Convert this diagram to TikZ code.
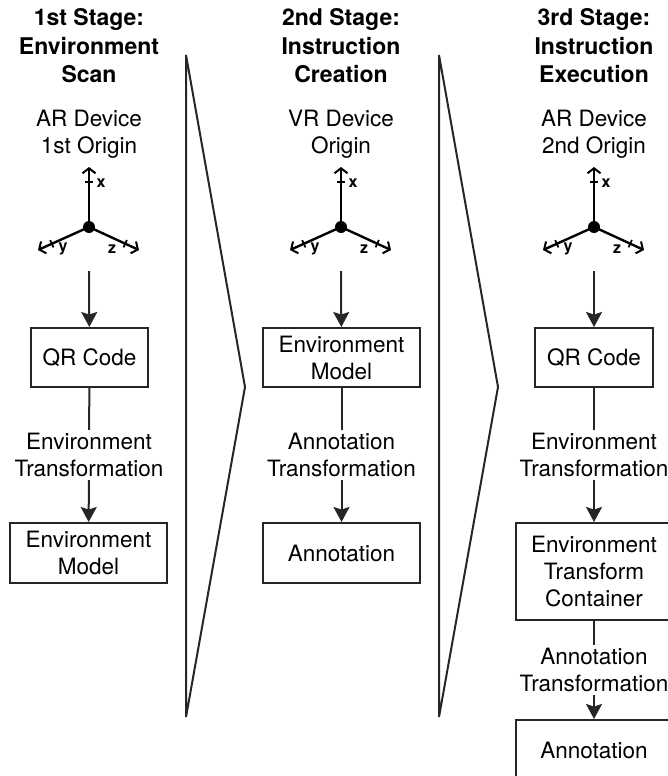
\documentclass[tikz,border=0pt]{standalone}
\usepackage{fontspec}
\setmainfont{TeX Gyre Heros}
\usetikzlibrary{arrows.meta,calc}
\newcommand\mainfs{\fontsize{22.5}{27}\selectfont}
\newcommand\titlefs{\fontsize{23}{28.5}\selectfont\bfseries}
\newcommand\axlfs{\fontsize{16}{16}\selectfont\bfseries}
\begin{document}
\begin{tikzpicture}[x=1pt,y=-1pt,
  box/.style={draw=black!85, line width=2pt, minimum height=59pt, align=center, inner sep=2pt, font=\mainfs},
  ttl/.style={align=center, font=\titlefs, inner sep=0pt},
  sub/.style={align=center, font=\mainfs, inner sep=0pt},
  lab/.style={align=center, font=\mainfs, fill=white, inner sep=3pt},
  arr/.style={draw=black!85, line width=2pt, -{Stealth[length=15pt,width=16pt,inset=2.5pt]}},
  axis/.style={draw=black, line width=2.4pt, -{Bar[width=8pt,line width=1.8pt,sep=7pt] Straight Barb[length=5pt,width=13pt,line width=2pt]}},
  axl/.style={font=\axlfs, inner sep=0pt},
  chev/.style={draw=black!85, line width=2pt, line join=miter}]
\useasboundingbox (0,0) rectangle (668,776);
\clip (0,0) rectangle (668,776);

% chevrons
\draw[chev] (186,55) -- (245,387) -- (186,717) -- cycle;
\draw[chev] (439,55) -- (498,387) -- (439,717) -- cycle;

% ---------- column 1 ----------
\node[ttl] (t1) at (89,46) {1st Stage:\\Environment\\Scan};
\node[sub] (s1) at (89,134.5) {AR Device\\1st Origin};
\coordinate (o1) at (89,227);
\coordinate (x1) at (89,167);
\coordinate (y1) at (38,250);
\coordinate (z1) at (139,250);
\draw[axis] (o1) -- (x1);
\draw[axis] (o1) -- (y1);
\draw[axis] (o1) -- (z1);
\fill (o1) circle (6);
\node[axl] (xl1) at (101,183) {x};
\node[axl] (yl1) at (63,249) {y};
\node[axl] (zl1) at (112,249) {z};
\coordinate (a1) at (89,271);
\node[box, minimum width=117pt] (q1) at (89.5,357.5) {QR Code};
\node[box, minimum width=157pt, minimum height=60pt] (m1) at (88.5,553) {Environment\\Model};
\draw[arr] (a1) -- (q1);
\draw[arr] (q1) -- node[lab] (l1) {Environment\\Transformation} (m1);

% ---------- column 2 ----------
\node[ttl] (t2) at (341,46) {2nd Stage:\\Instruction\\Creation};
\node[sub] (s2) at (341,134.5) {VR Device\\Origin};
\coordinate (o2) at (341,227);
\coordinate (x2) at (341,167);
\coordinate (y2) at (290,250);
\coordinate (z2) at (391,250);
\draw[axis] (o2) -- (x2);
\draw[axis] (o2) -- (y2);
\draw[axis] (o2) -- (z2);
\fill (o2) circle (6);
\node[axl] (xl2) at (353,183) {x};
\node[axl] (yl2) at (315,249) {y};
\node[axl] (zl2) at (364,249) {z};
\coordinate (a2) at (341,271);
\node[box, minimum width=157pt] (e2) at (341.5,357.5) {Environment\\Model};
\node[box, minimum width=157pt, minimum height=60pt] (n2) at (341.5,553) {Annotation};
\draw[arr] (a2) -- (e2);
\draw[arr] (e2) -- node[lab] (l2) {Annotation\\Transformation} (n2);

% ---------- column 3 ----------
\node[ttl] (t3) at (594,46) {3rd Stage:\\Instruction\\Execution};
\node[sub] (s3) at (594,134.5) {AR Device\\2nd Origin};
\coordinate (o3) at (594,227);
\coordinate (x3) at (594,167);
\coordinate (y3) at (543,250);
\coordinate (z3) at (644,250);
\draw[axis] (o3) -- (x3);
\draw[axis] (o3) -- (y3);
\draw[axis] (o3) -- (z3);
\fill (o3) circle (6);
\node[axl] (xl3) at (606,183) {x};
\node[axl] (yl3) at (568,249) {y};
\node[axl] (zl3) at (617,249) {z};
\coordinate (a3) at (594,271);
\node[box, minimum width=118pt] (q3) at (594,357.5) {QR Code};
\node[box, minimum width=156pt, minimum height=97pt] (c3) at (594,571.5) {Environment\\Transform\\Container};
\node[box, minimum width=156pt, minimum height=60pt] (n3) at (594,750) {Annotation};
\draw[arr] (a3) -- (q3);
\draw[arr] (q3) -- node[lab] (l3) {Environment\\Transformation} (c3);
\draw[arr] (c3) -- node[lab] (l4) {Annotation\\Transformation} (n3);
\end{tikzpicture}
\end{document}
